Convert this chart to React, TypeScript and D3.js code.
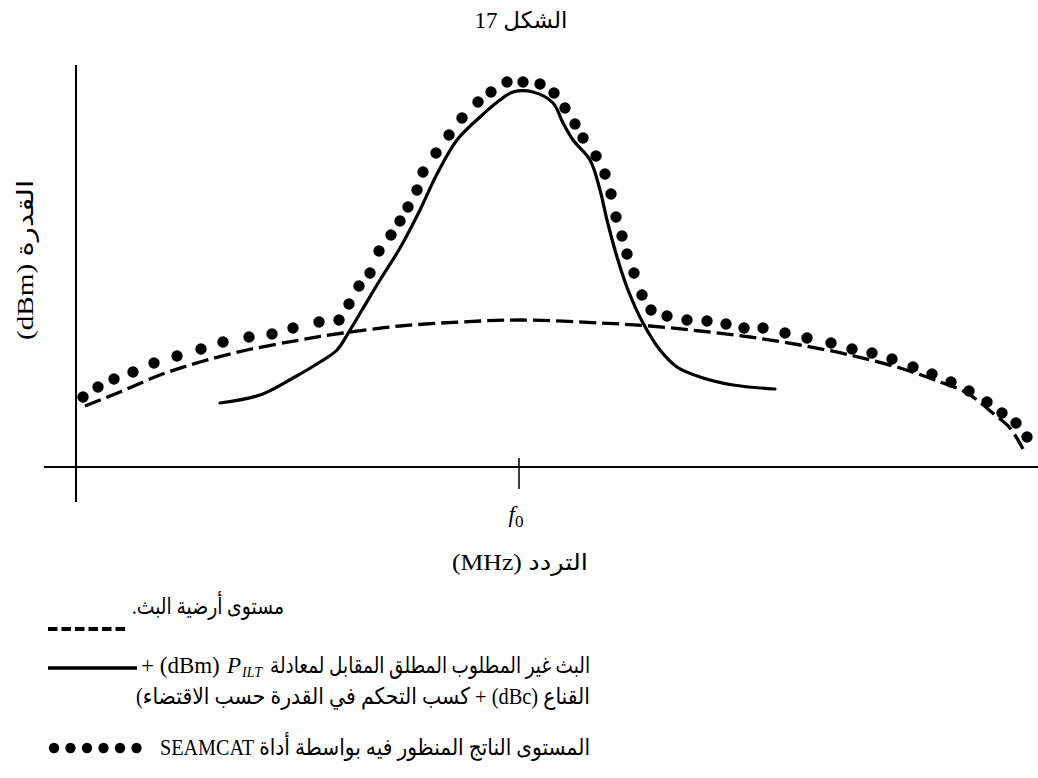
import React from 'react';
import * as d3 from 'd3';

// ---------- text ----------
const titleText = 'الشكل 17';
const yAxisLabel = 'القدرة (dBm)';
const xAxisLabel = 'التردد (MHz)';
const xTickValues = [0];
const xTickSymbol = 'f';
const xTickSub = '0';

const legendFloorText = 'مستوى أرضية البث.';
const legendEmissionLatin = '+ (dBm)';
const legendEmissionSymbol = 'P';
const legendEmissionSub = 'ILT';
const legendEmissionArabic = 'البث غير المطلوب المطلق المقابل لمعادلة';
const legendEmissionLine2 = 'القناع (dBc) + كسب التحكم في القدرة حسب الاقتضاء)';
const legendSeamcatText = 'المستوى الناتج المنظور فيه بواسطة أداة SEAMCAT';
const legendDotCount = 6;

// ---------- data (frequency offset from f0, relative power) ----------
const floorLevel: [number, number][] = [
  [-43.4, 15.25], [-39.9, 18.75], [-35.9, 23], [-31.9, 26.25], [-27.2, 29.25],
  [-21.9, 31.75], [-17.6, 33.5], [-11.9, 35.25], [-5.9, 36.25], [0, 36.75],
  [8.1, 36], [13.1, 35.25], [18.1, 34], [23.1, 32.5], [28.1, 30.5],
  [33.1, 28], [38.1, 24.75], [42.1, 21.25], [44.8, 18.5], [47.6, 13],
  [49.1, 9.75], [50.4, 4.5],
];

const unwantedEmission: [number, number][] = [
  [-29.9, 16], [-25.9, 18], [-22.6, 22.25], [-19.9, 26.25], [-18.2, 29.25],
  [-16.9, 34.25], [-15.7, 39.25], [-13.9, 46.75], [-11.9, 54.75], [-9.9, 64.25],
  [-8.3, 72.75], [-6.2, 81.75], [-3.9, 87.5], [-1.9, 91.75], [-0.6, 93.75],
  [1.4, 93.75], [3.4, 91], [4.4, 86], [5.4, 81.75], [7.1, 76.75],
  [8.1, 69.25], [8.8, 61.75], [9.8, 52.5], [10.9, 44.25], [12.4, 36],
  [14.1, 29.25], [15.8, 25], [18.1, 22.5], [21.4, 20.5], [25.6, 19.5],
];

const seamcatLevel: [number, number][] = [
  [-43.6, 17.5], [-42.1, 20], [-40.5, 22], [-38.6, 23.75], [-36.5, 26],
  [-34.2, 27.75], [-31.8, 29.5], [-29.6, 31.25], [-27.0, 32.5], [-24.7, 33.25],
  [-22.6, 34.75], [-20.0, 36.25], [-18.0, 36.75], [-17.0, 40.75], [-16.0, 45.25],
  [-14.9, 48.5], [-14.0, 54], [-12.8, 58], [-11.9, 61.5], [-11.1, 65],
  [-10.2, 69.25], [-9.6, 73.75], [-8.3, 78.5], [-7.0, 83], [-5.7, 87.25],
  [-4.1, 91.25], [-2.8, 93.75], [-1.2, 96.25], [0.4, 96.25], [2.1, 95.75],
  [3.5, 93.5], [4.6, 89.75], [5.6, 85.75], [6.4, 82.25], [7.7, 77.75],
  [8.6, 73.25], [9.2, 68.25], [9.7, 62.5], [10.3, 57.75], [10.8, 53.25],
  [11.5, 48.5], [12.3, 43], [13.2, 39.25], [14.8, 37.75], [16.8, 36.75],
  [18.8, 36.5], [20.7, 35.75], [22.5, 34.75], [24.4, 34.75], [26.6, 33.5],
  [28.8, 32.25], [31.2, 31], [33.3, 29.5], [35.3, 28.5], [37.3, 27],
  [39.4, 25], [41.3, 23.25], [43.2, 21.25], [45.0, 19], [46.8, 16.25],
  [48.3, 13.5], [49.7, 11], [50.8, 7.5],
];

const W = 1038;
const H = 778;
const serif = "'Liberation Serif', 'DejaVu Sans', serif";

export default function App() {
  const x = d3.scaleLinear().domain([-44.3, 51.9]).range([76, 1038]);
  const y = d3.scaleLinear().domain([0, 100]).range([467, 67]);

  const line = d3
    .line<[number, number]>()
    .x((d) => x(d[0]))
    .y((d) => y(d[1]))
    .curve(d3.curveCatmullRom.alpha(0.5));

  const x0 = x(0);
  const axisY = y(0);

  return (
    <svg
      width={W}
      height={H}
      viewBox={`0 0 ${W} ${H}`}
      style={{ position: 'absolute', left: 0, top: 0, background: '#fff' }}
      fontFamily={serif}
    >
      <rect x={0} y={0} width={W} height={H} fill="#fff" />

      {/* title */}
      <text x={521} y={28} fontSize={23} textAnchor="middle" direction="rtl">
        {titleText}
      </text>

      {/* axes */}
      <line x1={x.range()[0]} x2={x.range()[0]} y1={65} y2={502} stroke="#000" strokeWidth={2} />
      <line x1={44} x2={W} y1={axisY} y2={axisY} stroke="#000" strokeWidth={2} />
      {xTickValues.map((v) => (
        <g key={v}>
          <line x1={x(v)} x2={x(v)} y1={axisY - 9} y2={axisY + 22} stroke="#000" strokeWidth={1.5} />
          <text x={x(v) - 3} y={axisY + 55} fontSize={23} textAnchor="middle">
            <tspan fontStyle="italic">{xTickSymbol}</tspan>
            <tspan fontSize={17} dy={5}>{xTickSub}</tspan>
          </text>
        </g>
      ))}

      {/* axis labels */}
      <text
        x={x0 + 1}
        y={570}
        fontSize={23}
        textAnchor="middle"
        direction="rtl"
        textLength={136}
        lengthAdjust="spacingAndGlyphs"
      >
        {xAxisLabel}
      </text>
      <text
        transform={`translate(33, 260) rotate(-90)`}
        fontSize={23}
        textAnchor="middle"
        direction="rtl"
        textLength={160}
        lengthAdjust="spacingAndGlyphs"
      >
        {yAxisLabel}
      </text>

      {/* curves */}
      <path d={line(floorLevel) || ''} fill="none" stroke="#000" strokeWidth={3.3} strokeDasharray="17 6" />
      <path d={line(unwantedEmission) || ''} fill="none" stroke="#000" strokeWidth={3.2} strokeLinecap="round" />
      {seamcatLevel.map((d, i) => (
        <circle key={i} cx={x(d[0])} cy={y(d[1])} r={5.7} fill="#000" />
      ))}

      {/* legend */}
      <line x1={48} x2={129} y1={629} y2={629} stroke="#000" strokeWidth={4} strokeDasharray="9.5 4" />
      <text
        x={284}
        y={614}
        fontSize={23}
        direction="rtl"
        textAnchor="start"
        textLength={152}
        lengthAdjust="spacingAndGlyphs"
      >
        {legendFloorText}
      </text>

      <line x1={48} x2={137} y1={668} y2={668} stroke="#000" strokeWidth={3.5} />
      <text x={141} y={673} fontSize={23}>
        {legendEmissionLatin}
      </text>
      <text x={227} y={673} fontSize={23} fontStyle="italic">
        {legendEmissionSymbol}
      </text>
      <text x={242} y={677} fontSize={14} fontStyle="italic">
        {legendEmissionSub}
      </text>
      <text
        x={590}
        y={673}
        fontSize={23}
        direction="rtl"
        textAnchor="start"
        textLength={320}
        lengthAdjust="spacingAndGlyphs"
      >
        {legendEmissionArabic}
      </text>
      <text
        x={590}
        y={704}
        fontSize={23}
        direction="rtl"
        textAnchor="start"
        textLength={454}
        lengthAdjust="spacingAndGlyphs"
      >
        {legendEmissionLine2}
      </text>

      {d3.range(legendDotCount).map((i) => (
        <circle key={i} cx={54 + i * 16.5} cy={748} r={5.2} fill="#000" />
      ))}
      <text
        x={590}
        y={755}
        fontSize={23}
        direction="rtl"
        textAnchor="start"
        textLength={430}
        lengthAdjust="spacingAndGlyphs"
      >
        {legendSeamcatText}
      </text>
    </svg>
  );
}
